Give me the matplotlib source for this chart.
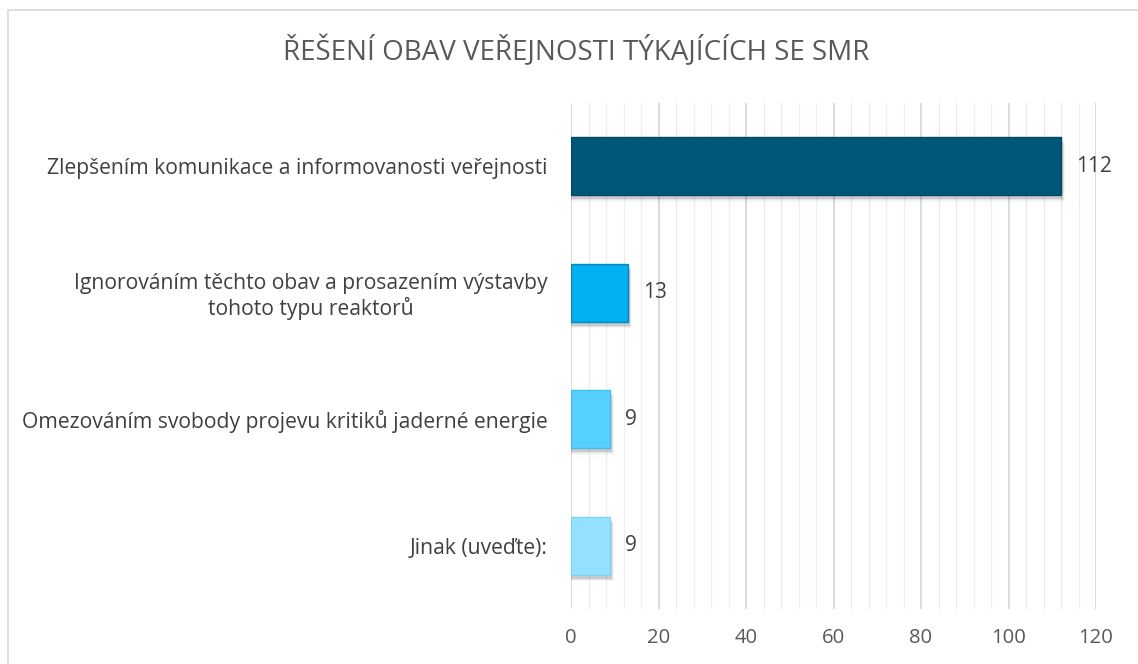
import matplotlib
matplotlib.use("Agg")
import matplotlib.pyplot as plt
from matplotlib.patches import Rectangle
from matplotlib.ticker import MultipleLocator

plt.rcParams['font.family'] = ['Open Sans', 'DejaVu Sans']

title = "ŘEŠENÍ OBAV VEŘEJNOSTI TÝKAJÍCÍCH SE SMR"
categories = [
    "Zlepšením komunikace a informovanosti veřejnosti",
    "Ignorováním těchto obav a prosazením výstavby\ntohoto typu reaktorů",
    "Omezováním svobody projevu kritiků jaderné energie",
    "Jinak (uveďte):",
]
values = [112, 13, 9, 9]
colors = ["#005677", "#00B0F0", "#55D0FF", "#93E1FF"]
edges = ["#004A66", "#0A86B8", "#44BDE8", "#7FD2EF"]
x_ticks = [0, 20, 40, 60, 80, 100, 120]

fig = plt.figure(figsize=(11.38, 6.64), dpi=100)
# chart frame
fig.patches.append(Rectangle((8 / 1138, -0.01), 1.02, 1 - 10 / 664 + 0.01,
                             transform=fig.transFigure, fill=False,
                             edgecolor="#D9D9D9", linewidth=1.2))

ax = fig.add_axes([571 / 1138, 1 - 609 / 664, 525 / 1138, 506 / 664])
y = list(range(len(categories)))

# soft shadows under the bars
for yi, v in zip(y, values):
    for k, a in enumerate([0.10, 0.07, 0.04]):
        ax.barh(yi + 0.03 + 0.01 * k, v + 0.4 + 0.2 * k, height=0.46, left=0,
                color="black", alpha=a, linewidth=0, zorder=2)

ax.barh(y, values, height=0.46, color=colors, edgecolor=edges,
        linewidth=1.0, zorder=3)

for yi, v in zip(y, values):
    ax.text(v + 3.4, yi, str(v), va="center", ha="left", fontsize=15,
            color="#404040", zorder=4)

ax.set_xlim(0, 120)
ax.set_ylim(len(categories) - 0.5, -0.5)
ax.set_xticks(x_ticks)
ax.xaxis.set_minor_locator(MultipleLocator(4))
ax.grid(axis="x", which="major", color="#D9D9D9", linewidth=1.3, zorder=0)
ax.grid(axis="x", which="minor", color="#EDEDED", linewidth=1.0, zorder=0)
ax.set_axisbelow(True)
ax.set_yticks(y)
ax.set_yticklabels(categories, fontsize=15.2, color="#404040",
                   multialignment="center", linespacing=1.18)
ax.tick_params(axis="y", length=0, pad=17)
ax.tick_params(axis="x", which="both", length=0, pad=14, labelsize=14.6,
               labelcolor="#595959")
for s in ax.spines.values():
    s.set_visible(False)

fig.text(576 / 1138, 1 - 51 / 664, title, ha="center", va="center",
         fontsize=20, color="#595959")

fig.savefig("out.png", dpi=100)
